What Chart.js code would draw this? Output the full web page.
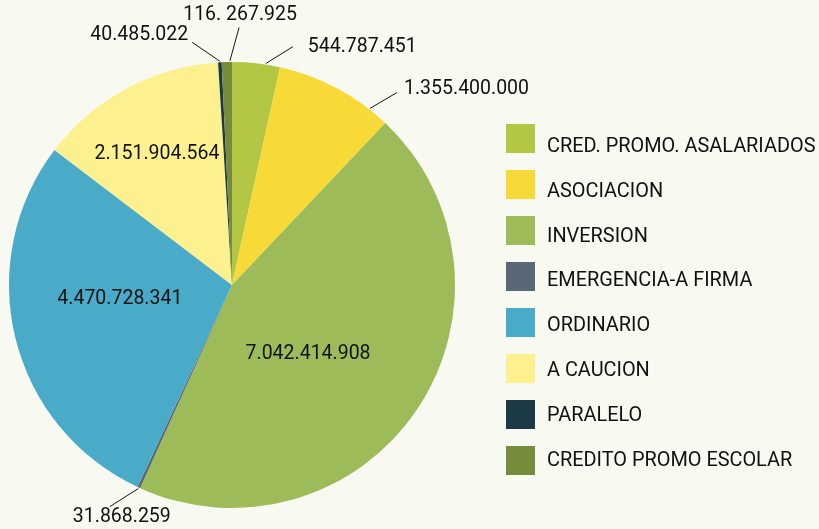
<!DOCTYPE html>
<html>
<head>
<meta charset="utf-8">
<script src="https://cdn.jsdelivr.net/npm/chart.js@4.4.0/dist/chart.umd.min.js"></script>
<style>
  html, body { margin: 0; padding: 0; background: #f8f9f1; }
  canvas { display: block; }
</style>
</head>
<body>
<canvas id="pieChart" width="819" height="529"></canvas>
<script>
// categories and values
var categories = [
    "CRED. PROMO. ASALARIADOS",
    "ASOCIACION",
    "INVERSION",
    "EMERGENCIA-A FIRMA",
    "ORDINARIO",
    "A CAUCION",
    "PARALELO",
    "CREDITO PROMO ESCOLAR"
];
var values = [544787451, 1355400000, 7042414908, 31868259, 4470728341, 2151904564, 40485022, 116267925];
var valueLabels = ["544.787.451", "1.355.400.000", "7.042.414.908", "31.868.259", "4.470.728.341", "2.151.904.564", "40.485.022", "116. 267.925"];
var colors = ['#b3c745', '#f7da37', '#9dbb59', '#596776', '#4aabc9', '#fdf08e', '#1c3a46', '#768c3b'];

// where each value label goes, relative to its slice
// af = fraction along the slice, rf = fraction of radius
var labelPlace = [
    {out: true, af: 0.70, de: 5.6, rf: 1.103, dx: 15, dy: 0, align: 'left'},
    {out: true, af: 0.825, de: 2.6, rf: 1.137, dx: 7, dy: -3, align: 'left'},
    {out: false, af: 0.553, rf: 0.462},
    {out: true, af: 0.5, de: 4.15, rf: 1.135, dx: 12, dy: 10, align: 'center'},
    {out: false, af: 0.564, rf: 0.507},
    {out: false, af: 0.465, rf: 0.675},
    {out: true, af: 0.5, de: -6.2, rf: 1.103, dx: -4, dy: -7, align: 'right'},
    {out: true, af: 0.8, de: 2.1, rf: 1.155, dx: 1, dy: -12, align: 'center'}
];

var valueLabelPlugin = {
    id: 'valueLabels',
    afterDatasetsDraw: function(chart) {
        var ctx = chart.ctx;
        var meta = chart.getDatasetMeta(0);
        ctx.save();
        ctx.font = '19.5px Roboto';
        ctx.fillStyle = '#111111';
        ctx.strokeStyle = '#151515';
        ctx.lineWidth = 1;
        ctx.textBaseline = 'middle';
        meta.data.forEach(function(arc, i) {
            var p = labelPlace[i];
            var a = arc.startAngle + (arc.endAngle - arc.startAngle) * p.af;
            var r = arc.outerRadius;
            if (!p.out) {
                ctx.textAlign = 'center';
                ctx.fillText(valueLabels[i], arc.x + Math.cos(a) * r * p.rf, arc.y + Math.sin(a) * r * p.rf);
                return;
            }
            var sx = arc.x + Math.cos(a) * r * 1.005;
            var sy = arc.y + Math.sin(a) * r * 1.005;
            var e = a + p.de * Math.PI / 180;
            var ex = arc.x + Math.cos(e) * r * p.rf;
            var ey = arc.y + Math.sin(e) * r * p.rf;
            ctx.beginPath();
            ctx.moveTo(sx, sy);
            ctx.lineTo(ex, ey);
            ctx.stroke();
            ctx.textAlign = p.align;
            ctx.fillText(valueLabels[i], ex + p.dx, ey + p.dy);
        });
        ctx.restore();
    }
};

// legend drawn on the right side
var sideLegendPlugin = {
    id: 'sideLegend',
    afterDraw: function(chart) {
        var ctx = chart.ctx;
        var x = chart.chartArea.right + 51;
        ctx.save();
        ctx.font = '19.9px Roboto';
        ctx.textBaseline = 'alphabetic';
        ctx.textAlign = 'left';
        categories.forEach(function(name, i) {
            ctx.fillStyle = colors[i];
            ctx.fillRect(x, 124 + i * 46, 29, 29);
            ctx.fillStyle = '#111111';
            ctx.fillText(name, x + 41, 151.7 + i * 44.9);
        });
        ctx.restore();
    }
};

var ctx = document.getElementById('pieChart').getContext('2d');
var chart = new Chart(ctx, {
    type: 'pie',
    data: {
        labels: categories,
        datasets: [{
            data: values,
            backgroundColor: colors,
            borderWidth: 0
        }]
    },
    options: {
        responsive: false,
        animation: false,
        events: [],
        layout: {
            padding: {left: 9, right: 364, top: 62, bottom: 21}
        },
        plugins: {
            legend: { display: false },
            tooltip: { enabled: false }
        }
    },
    plugins: [valueLabelPlugin, sideLegendPlugin]
});
</script>
</body>
</html>
